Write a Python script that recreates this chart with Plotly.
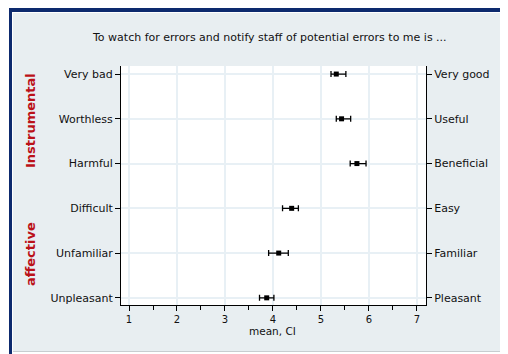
import plotly.graph_objects as go

left_labels = ["Unpleasant", "Unfamiliar", "Difficult", "Harmful", "Worthless", "Very bad"]
right_labels = ["Pleasant", "Familiar", "Easy", "Beneficial", "Useful", "Very good"]
means = [3.87, 4.12, 4.39, 5.75, 5.43, 5.32]
ci_low = [3.72, 3.91, 4.20, 5.61, 5.32, 5.21]
ci_high = [4.02, 4.32, 4.53, 5.94, 5.62, 5.52]
x_ticks = [1, 2, 3, 4, 5, 6, 7]
title_text = "To watch for errors and notify staff of potential errors to me is ..."
x_title = "mean, CI"

OFF = 8  # page body margin
W, H = 508 - OFF, 354 - OFF
L, R, T, B = 121, 426, 66, 305


def px(x):
    return (x - L) / (R - L)


def py(y):
    return (B - y) / (B - T)


pos = list(range(len(left_labels)))
font = dict(family="DejaVu Sans", size=11, color="#111111")
xfont = dict(family="DejaVu Sans", size=10, color="#111111")
grid = "#e8f0f5"
fig = go.Figure()
fig.add_trace(go.Scatter(
    x=means, y=pos, mode="markers",
    marker=dict(symbol="square", size=5, color="black"),
    error_x=dict(type="data", symmetric=False,
                 array=[h - m for h, m in zip(ci_high, means)],
                 arrayminus=[m - l for m, l in zip(means, ci_low)],
                 color="black", thickness=1.3, width=3),
    showlegend=False, hoverinfo="skip"))
fig.add_trace(go.Scatter(x=[None], y=[None], yaxis="y2", showlegend=False))

yr = [-0.16, 5.18]
fig.update_layout(
    width=W, height=H,
    margin=dict(l=L - OFF, r=508 - R, t=T - OFF, b=354 - B),
    paper_bgcolor="white", plot_bgcolor="white",
    font=font,
    xaxis=dict(range=[0.833, 7.19], tickvals=x_ticks, ticks="outside", ticklen=5,
               tickcolor="black", showline=True, linecolor="black", linewidth=1,
               showgrid=True, gridcolor=grid, gridwidth=1.5, zeroline=False,
               minor=dict(dtick=0.5, tick0=0.5, ticks="outside", ticklen=4,
                          tickcolor="black", showgrid=False),
               tickfont=xfont),
    yaxis=dict(range=yr, tickvals=pos, ticktext=left_labels, ticks="outside", ticklen=5,
               tickcolor="black", showline=True, linecolor="black", linewidth=1,
               showgrid=True, gridcolor=grid, gridwidth=1.5, zeroline=False, tickfont=font),
    yaxis2=dict(range=yr, tickvals=pos, ticktext=right_labels, overlaying="y", side="right",
                ticks="outside", ticklen=5, tickcolor="black", showline=True, linecolor="black",
                linewidth=1, showgrid=False, zeroline=False, tickfont=font),
)

shapes = [
    dict(type="rect", xref="paper", yref="paper", x0=px(9), x1=px(530), y0=py(360), y1=py(7),
         fillcolor="#0d2a6e", line=dict(width=0), layer="below"),
    dict(type="rect", xref="paper", yref="paper", x0=px(12), x1=px(530), y0=py(360), y1=py(12),
         fillcolor="#ffffff", line=dict(width=0), layer="below"),
    dict(type="rect", xref="paper", yref="paper", x0=px(13), x1=px(530), y0=py(351), y1=py(13),
         fillcolor="#e8eef1", line=dict(width=0), layer="below"),
    dict(type="line", xref="paper", yref="paper", x0=px(13), x1=px(530), y0=py(351.5), y1=py(351.5),
         line=dict(color="#c8cdd0", width=1), layer="below"),
    dict(type="rect", xref="paper", yref="paper", x0=0, x1=1, y0=0, y1=1,
         fillcolor="white", line=dict(width=0), layer="below"),
]
fig.update_layout(shapes=shapes)

fig.add_annotation(text=title_text, xref="paper", yref="paper", x=px(269), y=py(38),
                   xanchor="center", yanchor="middle", showarrow=False,
                   font=dict(size=11, color="#111111"))
fig.add_annotation(text=x_title, xref="paper", yref="paper", x=px(272), y=py(331),
                   xanchor="center", yanchor="middle", showarrow=False,
                   font=dict(size=10.5, color="#111111"))
fig.add_annotation(text="<b>Instrumental</b>", xref="paper", yref="paper", x=px(30), y=py(121),
                   xanchor="center", yanchor="middle", textangle=-90, showarrow=False,
                   font=dict(size=13, color="#bb1118", family="DejaVu Sans"))
fig.add_annotation(text="<b>affective</b>", xref="paper", yref="paper", x=px(30), y=py(254),
                   xanchor="center", yanchor="middle", textangle=-90, showarrow=False,
                   font=dict(size=13, color="#bb1118", family="DejaVu Sans"))

fig.write_html("out.html")
